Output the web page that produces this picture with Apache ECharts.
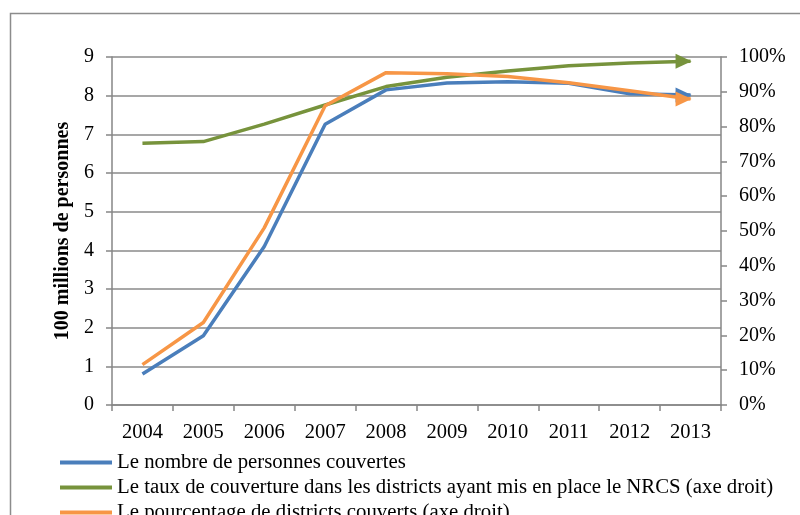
<!DOCTYPE html>
<html>
<head>
<meta charset="utf-8">
<script src="https://cdn.jsdelivr.net/npm/echarts@6/dist/echarts.min.js"></script>
<style>
  html, body { margin: 0; padding: 0; background: #fff; }
  #main { width: 800px; height: 515px; }
</style>
</head>
<body>
<div id="main"></div>
<script>
var years = ["2004", "2005", "2006", "2007", "2008", "2009", "2010", "2011", "2012", "2013"];
// 100 millions de personnes (axe gauche)
var personnes = [0.8, 1.79, 4.1, 7.26, 8.15, 8.33, 8.36, 8.32, 8.05, 8.02];
// % (axe droit)
var tauxCouverture = [75.2, 75.7, 80.7, 86.2, 91.5, 94.2, 96.0, 97.5, 98.3, 98.8];
var pctDistricts = [11.6, 23.7, 50.9, 86.0, 95.5, 95.2, 94.4, 92.6, 90.3, 87.9];
var leftTicks = [0, 9, 1];
var rightTicks = [0, 100, 10];

var names = [
  "Le nombre de personnes couvertes",
  "Le taux de couverture dans les districts ayant mis en place le NRCS (axe droit)",
  "Le pourcentage de districts couverts (axe droit)"
];
var colors = ["#4a7ebb", "#77933c", "#f79646"];

var font = "Liberation Serif";

// last point gets an arrow head
function withArrow(arr) {
  return arr.map(function (v, i) {
    if (i < arr.length - 1) return v;
    return {
      value: v,
      symbol: "triangle",
      symbolSize: [15, 16],
      symbolRotate: -90,
      symbolOffset: [-7, 0]
    };
  });
}

var myChart = echarts.init(document.getElementById("main"));
var option = {
  animation: false,
  textStyle: { fontFamily: font },
  graphic: [
    {
      type: "rect",
      shape: { x: 10.5, y: 13.5, width: 820, height: 600 },
      style: { fill: null, stroke: "#8c8c8c", lineWidth: 1.5 },
      silent: true
    }
  ],
  grid: { left: 112, right: 79, top: 57, bottom: 110 },
  legend: {
    orient: "vertical",
    left: 58,
    top: 452,
    height: 150,
    padding: 0,
    itemWidth: 52,
    itemHeight: 18,
    itemGap: 4,
    data: names,
    itemStyle: { opacity: 0 },
    lineStyle: { width: 4 },
    textStyle: { fontFamily: font, fontSize: 20.8, color: "#000" }
  },
  xAxis: {
    type: "category",
    data: years,
    boundaryGap: true,
    axisLine: { lineStyle: { color: "#868686", width: 1.5 } },
    axisTick: { show: true, length: 6, lineStyle: { color: "#868686", width: 1.5 } },
    axisLabel: { color: "#000", fontSize: 20.5, fontFamily: font, margin: 17 }
  },
  yAxis: [
    {
      type: "value",
      min: leftTicks[0],
      max: leftTicks[1],
      interval: leftTicks[2],
      name: "100 millions de personnes",
      nameLocation: "middle",
      nameGap: 37,
      nameTextStyle: { fontFamily: font, fontSize: 20, fontWeight: "bold", color: "#000" },
      axisLine: { show: true, lineStyle: { color: "#868686", width: 1.5 } },
      axisTick: { show: true, length: 6, lineStyle: { color: "#868686", width: 1.5 } },
      axisLabel: { color: "#000", fontSize: 20, fontFamily: font, margin: 18 },
      splitLine: { lineStyle: { color: "#8a8a8a", width: 1.5 } }
    },
    {
      type: "value",
      min: rightTicks[0],
      max: rightTicks[1],
      interval: rightTicks[2],
      position: "right",
      axisLine: { show: true, lineStyle: { color: "#868686", width: 1.5 } },
      axisTick: { show: true, length: 6, lineStyle: { color: "#868686", width: 1.5 } },
      axisLabel: { color: "#000", fontSize: 20, fontFamily: font, margin: 18, formatter: "{value}%" },
      splitLine: { show: false }
    }
  ],
  series: [
    {
      name: names[0],
      type: "line",
      yAxisIndex: 0,
      data: withArrow(personnes),
      symbol: "none",
      color: colors[0],
      lineStyle: { width: 3.5 },
      z: 3
    },
    {
      name: names[1],
      type: "line",
      yAxisIndex: 1,
      data: withArrow(tauxCouverture),
      symbol: "none",
      color: colors[1],
      lineStyle: { width: 3.5 },
      z: 2
    },
    {
      name: names[2],
      type: "line",
      yAxisIndex: 1,
      data: withArrow(pctDistricts),
      symbol: "none",
      color: colors[2],
      lineStyle: { width: 3.5 },
      z: 4
    }
  ]
};
myChart.setOption(option);
</script>
</body>
</html>
